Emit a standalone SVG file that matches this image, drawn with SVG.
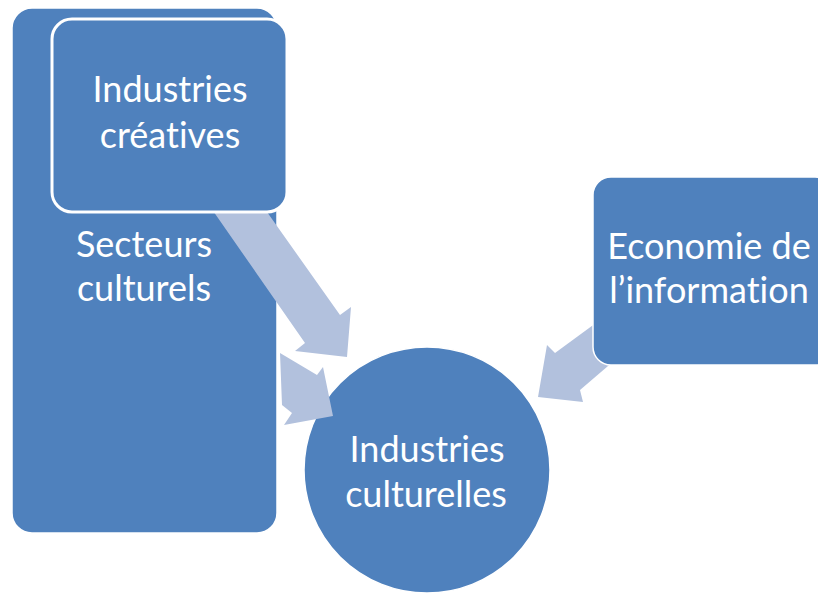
<svg xmlns="http://www.w3.org/2000/svg" width="818" height="599" viewBox="0 0 818 599">
<style>
.box{fill:#4F81BD;stroke:#FFFFFF;stroke-width:1.5}
.inner{fill:#4F81BD;stroke:#FFFFFF;stroke-width:3}
.arrow{fill:#B2C1DD;stroke:none}
.lbl{font-family:Lato,"Open Sans","Liberation Sans",sans-serif;font-size:36px;fill:#FFFFFF;text-anchor:middle;font-variant-ligatures:none;font-feature-settings:"liga" 0,"clig" 0}
</style>
<rect width="818" height="599" fill="#FFFFFF"/>
<g id="node-secteurs">
<rect class="box" x="12" y="8" width="265" height="525" rx="20" ry="20"/>
<text class="lbl" x="144" y="257">Secteurs</text>
<text class="lbl" x="144" y="301">culturels</text>
</g>
<g id="node-culturelles">
<circle class="box" cx="427" cy="470" r="123"/>
<text class="lbl" x="427" y="462">Industries</text>
<text class="lbl" x="426" y="507">culturelles</text>
</g>
<g id="connectors">
<polygon class="arrow" points="280,353 317,375 323,367 333,416 284,425 292,413 282,405"/>
<polygon class="arrow" points="202,195 255,195 340,315 351,307 347,357 295,351 305,343"/>
<polygon class="arrow" points="600,320 555,353 547,345 538,397 583,402 580,390 615,360"/>
</g>
<g id="node-creatives">
<rect class="inner" x="52" y="19" width="235" height="193" rx="20" ry="20"/>
<text class="lbl" x="170" y="102">Industries</text>
<text class="lbl" x="170" y="148">créatives</text>
</g>
<g id="node-info">
<rect class="box" x="593" y="177" width="240" height="188" rx="18" ry="18"/>
<text class="lbl" x="709" y="259">Economie de</text>
<text class="lbl" x="709" y="303">l’information</text>
</g>
</svg>
